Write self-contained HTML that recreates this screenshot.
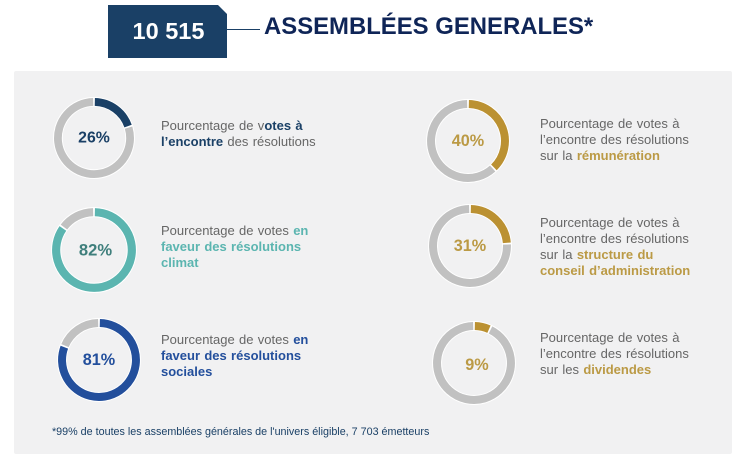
<!DOCTYPE html>
<html lang="fr">
<head>
<meta charset="utf-8">
<title>Assemblées générales</title>
<style>
html,body{margin:0;padding:0;background:#fff;}
body{position:relative;width:743px;height:457px;overflow:hidden;font-family:"Liberation Sans",sans-serif;}
#panel{position:absolute;left:14px;top:71px;width:718px;height:383px;background:#f1f1f2;border-radius:2px;}
#box{position:absolute;left:108px;top:5px;width:117px;padding-left:2px;height:53px;background:#1a4066;clip-path:polygon(0 0,110px 0,119px 9px,119px 53px,0 53px);color:#fff;font-weight:bold;font-size:23.5px;line-height:53px;text-align:center;}
#rule{position:absolute;left:227px;top:29px;width:33px;height:1px;background:#1a4066;}
#title{position:absolute;left:264px;top:11.5px;font-weight:bold;font-size:23.9px;line-height:30px;color:#0f2557;white-space:nowrap;}
.donut{position:absolute;display:block;}
.pct{font-family:"Liberation Sans",sans-serif;font-weight:bold;text-anchor:middle;dominant-baseline:central;}
.txt{position:absolute;font-size:13px;line-height:16px;color:#666;white-space:nowrap;word-spacing:.7px;}
.txt b{font-weight:bold;}
#note{position:absolute;left:52px;top:425px;font-size:10.75px;line-height:14px;color:#1a4066;white-space:nowrap;}
</style>
</head>
<body>
<div id="panel"></div>
<div id="box">10 515</div>
<div id="rule"></div>
<div id="title">ASSEMBLÉES GENERALES*</div>

<svg class="donut" id="d0" style="left:53px;top:96.5px" width="82" height="82" viewBox="0 0 100 100"></svg>
<svg class="donut" id="d1" style="left:426px;top:98.5px" width="84" height="84" viewBox="0 0 100 100"></svg>
<svg class="donut" id="d2" data-dx="1.5" style="left:51px;top:207px" width="86" height="86" viewBox="0 0 100 100"></svg>
<svg class="donut" id="d3" style="left:57px;top:318px" width="84" height="84" viewBox="0 0 100 100"></svg>
<svg class="donut" id="d4" style="left:428px;top:203.5px" width="84" height="84" viewBox="0 0 100 100"></svg>
<svg class="donut" id="d5" data-dx="3" data-dy="2" style="left:432px;top:320.5px" width="84" height="84" viewBox="0 0 100 100"></svg>

<div class="txt" style="left:161px;top:118px">Pourcentage de v<b style="color:#1a4066">otes à</b><br><b style="color:#1a4066">l’encontre</b> des résolutions</div>
<div class="txt" style="left:161px;top:223px">Pourcentage de votes <b style="color:#5bb5b0">en</b><br><b style="color:#5bb5b0">faveur des résolutions</b><br><b style="color:#5bb5b0">climat</b></div>
<div class="txt" style="left:161px;top:332px">Pourcentage de votes <b style="color:#234f9c">en</b><br><b style="color:#234f9c">faveur des résolutions</b><br><b style="color:#234f9c">sociales</b></div>
<div class="txt" style="left:540px;top:116px">Pourcentage de votes à<br>l’encontre des résolutions<br>sur la <b style="color:#bb9a45">rémunération</b></div>
<div class="txt" style="left:540px;top:215px">Pourcentage de votes à<br>l’encontre des résolutions<br>sur la <b style="color:#bb9a45">structure du</b><br><b style="color:#bb9a45">conseil d’administration</b></div>
<div class="txt" style="left:540px;top:330px">Pourcentage de votes à<br>l’encontre des résolutions<br>sur les <b style="color:#bb9a45">dividendes</b></div>
<div id="note">*99% de toutes les assemblées générales de l'univers éligible, 7 703 émetteurs</div>

<script>
var categories = ['votes-contre', 'remuneration', 'climat', 'sociales', 'conseil', 'dividendes'];
var printedPercent = [26, 40, 82, 81, 31, 9];
var drawnArcPercent = [20, 38, 85, 81, 24, 7];
var arcColors = ['#1a4066', '#bb9132', '#5bb5b0', '#234f9c', '#bb9132', '#bb9132'];
var textColors = ['#1a4066', '#bb9a45', '#3f7f7c', '#234f9c', '#bb9a45', '#bb9a45'];

var NS = 'http://www.w3.org/2000/svg';
var C = 50, RING = 44, THICK = 9.5, GAP = 1;

function angle(pct) { return pct / 100 * 2 * Math.PI; }
function point(a, r) { return [C + r * Math.sin(a), C - r * Math.cos(a)]; }
function arcPath(from, to) {
  var p = point(from, RING), q = point(to, RING);
  var large = (to - from) > Math.PI ? 1 : 0;
  return 'M' + p[0].toFixed(2) + ' ' + p[1].toFixed(2) +
         'A' + RING + ' ' + RING + ' 0 ' + large + ' 1 ' + q[0].toFixed(2) + ' ' + q[1].toFixed(2);
}
function drawDonut(i) {
  var svg = document.getElementById('d' + i);
  var pad = GAP / RING;
  var split = angle(drawnArcPercent[i]);
  var unit = 100 / svg.getAttribute('width');
  var dx = parseFloat(svg.getAttribute('data-dx') || 0) * unit;
  var dy = parseFloat(svg.getAttribute('data-dy') || 0) * unit;

  var halo = document.createElementNS(NS, 'circle');
  
  
  halo.setAttribute('cx', C);
  halo.setAttribute('cy', C);
  halo.setAttribute('r', RING);
  halo.setAttribute('fill', 'none');
  halo.setAttribute('stroke', '#fff');
  halo.setAttribute('stroke-width', THICK + 2.4);
  svg.appendChild(halo);

  var rest = document.createElementNS(NS, 'path');
  
  
  rest.setAttribute('d', arcPath(split + pad, 2 * Math.PI - pad));
  rest.setAttribute('fill', 'none');
  rest.setAttribute('stroke', '#c1c1c1');
  rest.setAttribute('stroke-width', THICK);
  svg.appendChild(rest);

  var arc = document.createElementNS(NS, 'path');
  
  
  arc.setAttribute('d', arcPath(pad, split - pad));
  arc.setAttribute('fill', 'none');
  arc.setAttribute('stroke', arcColors[i]);
  arc.setAttribute('stroke-width', THICK);
  svg.appendChild(arc);

  var label = document.createElementNS(NS, 'text');
  
  
  label.setAttribute('class', 'pct');
  label.setAttribute('x', C + dx);
  label.setAttribute('y', C + dy);
  label.setAttribute('font-size', 19.3);
  label.setAttribute('fill', textColors[i]);
  label.textContent = printedPercent[i] + '%';
  svg.appendChild(label);
}
categories.forEach(function (name, i) { drawDonut(i); });
</script>
</body>
</html>
